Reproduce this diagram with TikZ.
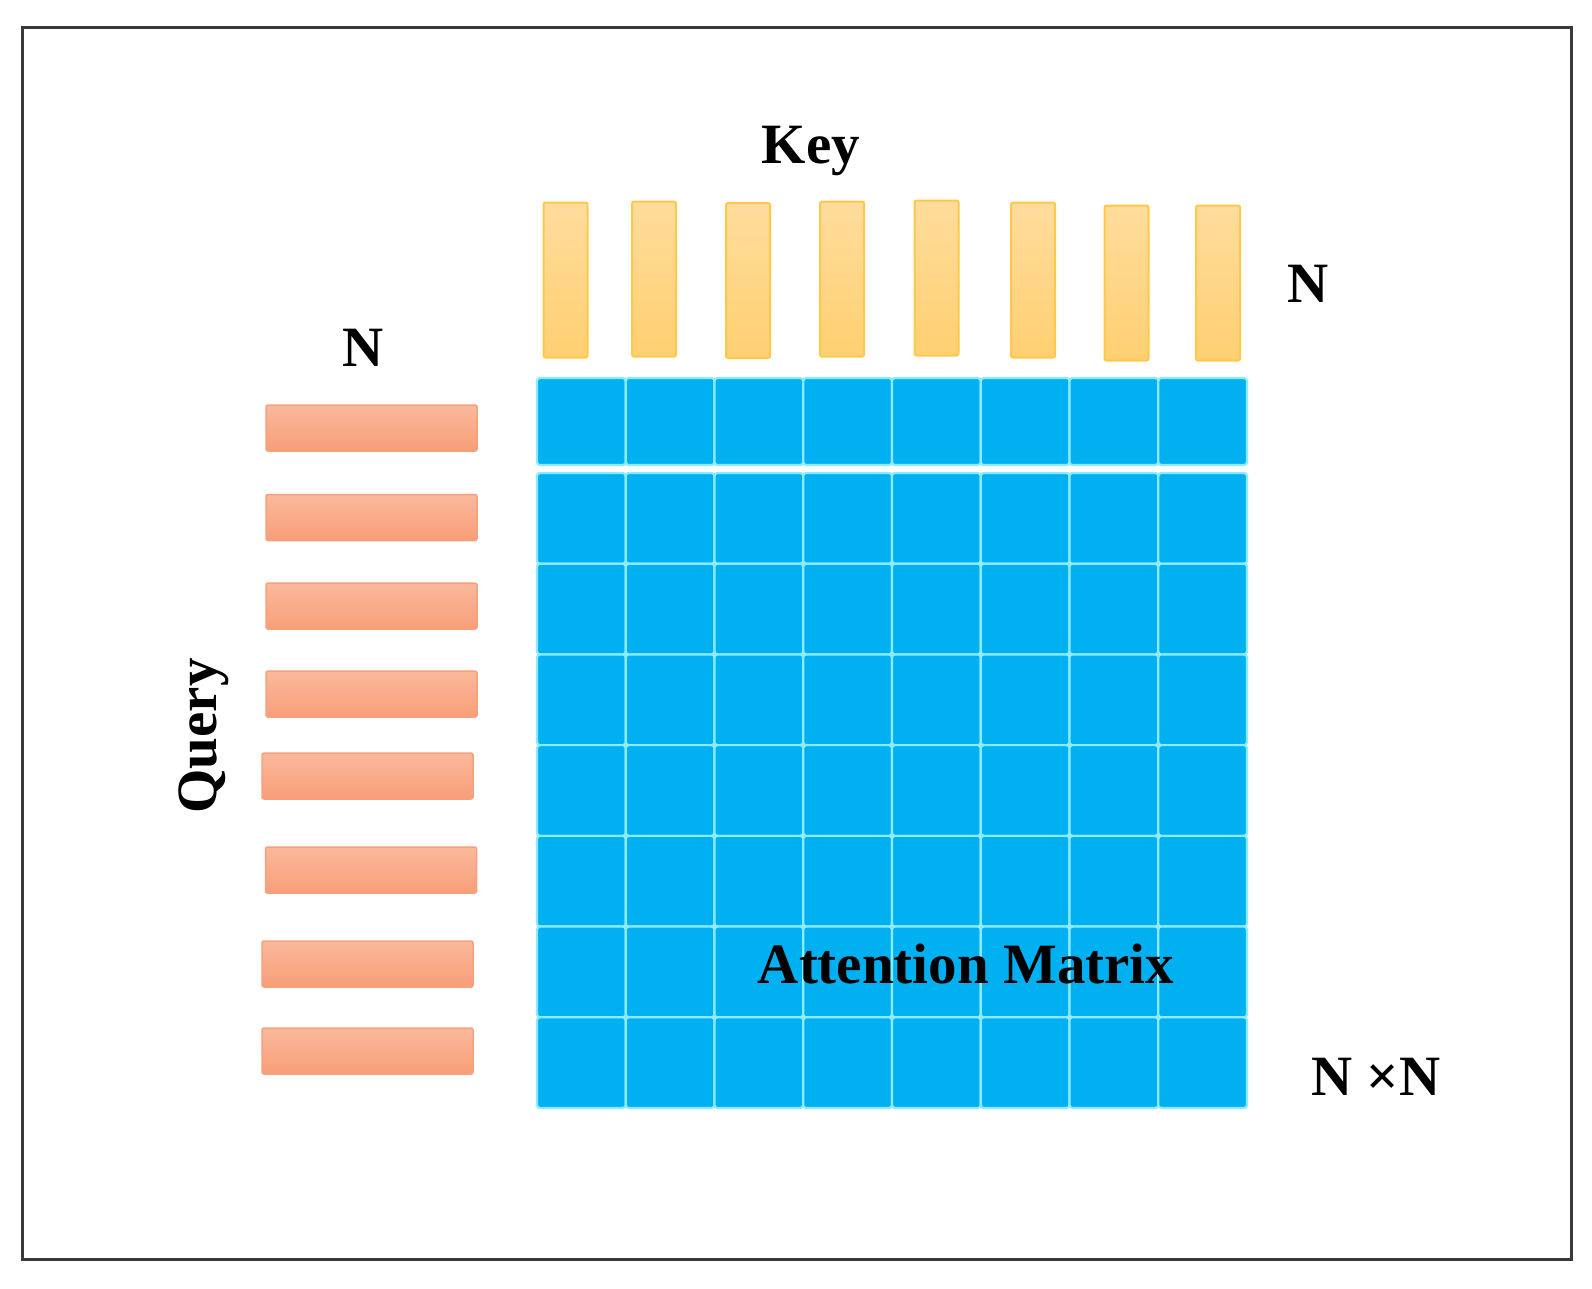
\documentclass[tikz,border=0pt]{standalone}
\usepackage{fontspec}
\setmainfont{Liberation Serif}
\begin{document}
\begin{tikzpicture}[x=1pt,y=-1pt,
  lbl/.style={font=\fontsize{57}{66}\selectfont\bfseries, inner sep=0pt, anchor=base, text=black},
  cell/.style={fill=mblue, draw=mline, line width=2.2pt, rounded corners=3pt, inner sep=0pt, minimum width=88.75pt},
  keybar/.style={top color=keytop, bottom color=keybot, draw=keyline, line width=2pt, rounded corners=2pt, inner sep=0pt, minimum width=44pt, minimum height=155pt},
  qbar/.style={top color=qtop, bottom color=qbot, draw=qline, line width=1.5pt, rounded corners=2pt, inner sep=0pt, minimum width=211pt, minimum height=46pt}]
\definecolor{mblue}{HTML}{00B0F0}
\definecolor{mline}{HTML}{8CEBFF}
\definecolor{keytop}{HTML}{FFDC9C}
\definecolor{keybot}{HTML}{FFD072}
\definecolor{keyline}{HTML}{FFC848}
\definecolor{qtop}{HTML}{FAB99C}
\definecolor{qbot}{HTML}{F89E78}
\definecolor{qline}{HTML}{F7A07A}
\definecolor{frame}{HTML}{3A3A3A}
\useasboundingbox (0,0) rectangle (1592,1288);
\fill[white] (0,0) rectangle (1592,1288);
\draw[frame, line width=3pt] (22,27) rectangle (1571,1259);
% keys
\node[keybar] (k1) at (565.5,280) {};
\node[keybar] (k2) at (654,279) {};
\node[keybar] (k3) at (748,280.5) {};
\node[keybar] (k4) at (842,279) {};
\node[keybar] (k5) at (936.5,278) {};
\node[keybar] (k6) at (1033,280) {};
\node[keybar] (k7) at (1126.5,283) {};
\node[keybar] (k8) at (1218,283) {};
% queries
\node[qbar] (q1) at (371.5,428) {};
\node[qbar] (q2) at (371.5,517.5) {};
\node[qbar] (q3) at (371.5,606) {};
\node[qbar] (q4) at (371.5,694) {};
\node[qbar] (q5) at (367.5,776) {};
\node[qbar] (q6) at (371,870) {};
\node[qbar] (q7) at (367.5,964) {};
\node[qbar] (q8) at (367.5,1051) {};
% matrix first row
\foreach \c in {0,...,7}{
  \node[cell, minimum height=87pt] (m1\c) at ({537+88.75*(\c+0.5)},421.5) {};
}
% matrix rows 2..8
\foreach \r in {2,...,8}{
  \foreach \c in {0,...,7}{
    \node[cell, minimum height=90.71pt] (m\r\c) at ({537+88.75*(\c+0.5)},{473+90.71*(\r-1.5)}) {};
  }
}
% labels
\node[lbl] (key) at (811,163) {Key};
\node[lbl] (nk) at (1308,302) {N};
\node[lbl] (nq) at (363,366) {N};
\node[lbl, rotate=90] (query) at (216,736) {Query};
\node[lbl] (att) at (966,983) {Attention Matrix};
\node[lbl] (nn) at (1376,1095) {N ×N};
\end{tikzpicture}
\end{document}
